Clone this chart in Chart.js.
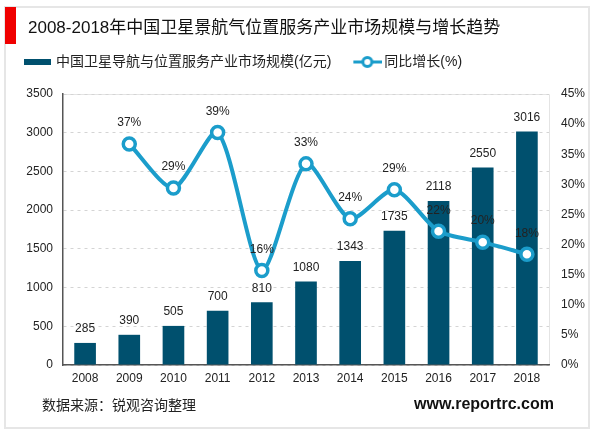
<!DOCTYPE html>
<html><head><meta charset="utf-8">
<script src="https://cdn.jsdelivr.net/npm/chart.js@4/dist/chart.umd.min.js"></script>
<style>html,body{margin:0;padding:0;background:#fff}canvas{display:block}</style></head>
<body><div style="width:600px;height:433px"><canvas id="c" width="600" height="433"></canvas></div>
<script>
const years = ['2008','2009','2010','2011','2012','2013','2014','2015','2016','2017','2018'];
const marketSize = [285,390,505,700,810,1080,1343,1735,2118,2550,3016];
const growth = [null,36.7,29.4,38.6,15.7,33.4,24.3,29.1,22.2,20.4,18.4];
const titleText = '2008-2018年中国卫星景航气位置服务产业市场规模与增长趋势';
const barName = '中国卫星导航与位置服务产业市场规模(亿元)';
const lineName = '同比增长(%)';
const sourceText = '数据来源：锐观咨询整理';
const siteText = 'www.reportrc.com';
const FONT = '"Liberation Sans","Noto Sans CJK SC",sans-serif';
const BAR = '#00506e', LINE = '#1b9dcb';

function marker(w, draw){
  const m = document.createElement('canvas'); m.width = w; m.height = 14;
  draw(m.getContext('2d')); return m;
}
const barMark = marker(28, g => { g.fillStyle = BAR; g.fillRect(1,4,27,6); });
const lineMark = marker(34, g => {
  g.strokeStyle = LINE; g.lineWidth = 3;
  g.beginPath(); g.moveTo(5,7); g.lineTo(34,7); g.stroke();
  g.fillStyle = '#fff'; g.beginPath(); g.arc(19,7,4.5,0,Math.PI*2); g.fill(); g.stroke();
});

const decor = {
  id:'decor',
  beforeLayout(ch){
    if (ch.legend && !ch.legend._grown){
      const f = ch.legend.fit; ch.legend._grown = true;
      ch.legend.fit = function(){ f.call(this); this.height += 15; };
    }
  },
  beforeDraw(ch){
    const g = ch.ctx; g.save();
    g.strokeStyle = '#e6e6e6'; g.lineWidth = 2; g.strokeRect(5,7,584,421);
    g.fillStyle = '#f00000'; g.fillRect(5,7,11,37);
    const a = ch.chartArea;
    g.strokeStyle = '#e4e4e4'; g.lineWidth = 1;
    g.beginPath(); g.moveTo(a.left,a.top+.5); g.lineTo(a.right+.5,a.top+.5); g.lineTo(a.right+.5,a.bottom); g.stroke();
    g.fillStyle = '#111'; g.textBaseline = 'alphabetic'; g.textAlign = 'left';
    g.font = '17px '+FONT; g.fillText(titleText,28,33);
    g.fillStyle = '#222'; g.font = '14px '+FONT; g.fillText(sourceText,42,410);
    g.fillStyle = '#111'; g.font = 'bold 16px '+FONT; g.fillText(siteText,414,409);
    g.restore();
  },
  afterDatasetsDraw(ch){
    const g = ch.ctx; g.save();
    g.font = '12px '+FONT; g.fillStyle = '#222'; g.textAlign = 'center'; g.textBaseline = 'middle';
    ch.getDatasetMeta(0).data.forEach((el,i)=> g.fillText(String(marketSize[i]), el.x, el.y-14));
    ch.getDatasetMeta(1).data.forEach((el,i)=>{
      if (growth[i] !== null) g.fillText(Math.round(growth[i])+'%', el.x, el.y-21);
    });
    g.restore();
  }
};

new Chart(document.getElementById('c'), {
  type:'bar',
  data:{labels:years,datasets:[
    {type:'bar',label:barName,data:marketSize,backgroundColor:BAR,yAxisID:'y',order:2,
     categoryPercentage:1,barPercentage:0.49},
    {type:'line',label:lineName,data:growth,yAxisID:'y1',order:1,borderColor:LINE,borderWidth:4,
     tension:0.25,pointRadius:6,pointHoverRadius:6,pointBorderWidth:3.5,pointBackgroundColor:'#fff',pointBorderColor:LINE,spanGaps:false}
  ]},
  options:{
    responsive:false,animation:false,events:[],
    layout:{padding:{left:3,right:0,top:33,bottom:44}},
    plugins:{tooltip:{enabled:false},
      legend:{position:'top',align:'start',
        labels:{color:'#222',font:{size:14,family:FONT},padding:22,usePointStyle:true,pointStyleWidth:24,
          generateLabels(ch){return ch.data.datasets.map((d,i)=>({text:d.label,datasetIndex:i,fontColor:'#222',pointStyle:i===0?barMark:lineMark,hidden:false,lineWidth:0}));}}}},
    scales:{
      x:{grid:{display:false,drawTicks:false},border:{color:'#555',width:1.5},
         ticks:{color:'#222',font:{size:12,family:FONT},padding:6,maxRotation:0,autoSkip:false},
         afterFit(s){s.height=24;}},
      y:{position:'left',min:0,max:3500,grid:{color:'#d4d4d4',drawTicks:false},border:{color:'#555',width:1.5,dash:[3,4]},
         ticks:{stepSize:500,color:'#222',font:{size:12,family:FONT},padding:10,callback:v=>String(v)},
         afterFit(s){s.width=60;}},
      y1:{position:'right',min:0,max:45,grid:{display:false,drawTicks:false},border:{display:false},
         ticks:{stepSize:5,color:'#222',font:{size:12,family:FONT},padding:12,callback:v=>v+'%'},
         afterFit(s){s.width=51;}}
    }
  },
  plugins:[decor]
});
</script></body></html>
